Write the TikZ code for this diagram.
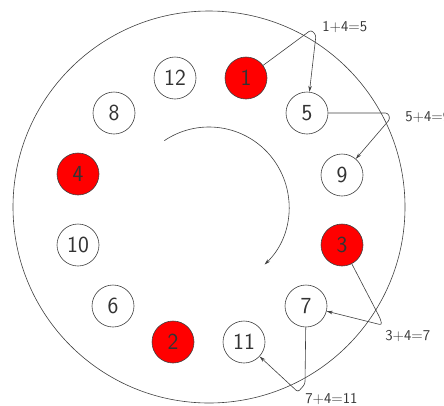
\documentclass[tikz,border=0pt]{standalone}
\usetikzlibrary{arrows.meta}
\begin{document}
\begin{tikzpicture}[x=1pt,y=-1pt, line width=0.6pt,
  ring/.style={circle, draw=black!75, minimum size=42pt, inner sep=0pt, font=\sffamily\fontsize{23}{23}\selectfont, text=black!80},
  hot/.style={ring, fill=red},
  cool/.style={ring, fill=white},
  lbl/.style={font=\sffamily\fontsize{15}{15}\selectfont, text=black!80, inner sep=0pt},
  link/.style={draw=black!75, -{Stealth[length=6pt,width=3.5pt]}, rounded corners=2.5pt}]
\useasboundingbox (0,0) rectangle (444,405);
\draw[black!75] (209,207) circle[radius=196pt];
\node[cool] (n12) at (175,78) {12};
\node[hot]  (n1)  at (246,78) {1};
\node[cool] (n5)  at (307,113) {5};
\node[cool] (n9)  at (342,175) {9};
\node[hot]  (n3)  at (342,245) {3};
\node[cool] (n7)  at (306,306) {7};
\node[cool] (n11) at (244,342) {11};
\node[hot]  (n2)  at (173,342) {2};
\node[cool] (n6)  at (113,306) {6};
\node[cool] (n10) at (78,245) {10};
\node[hot]  (n4)  at (78,174) {4};
\node[cool] (n8)  at (114,113) {8};
\draw[draw=black!75, -{Stealth[length=6pt,width=3.5pt]}] (209,207) ++(-124:80) arc[start angle=-124, end angle=46, radius=80];
\draw[link] (n1) -- (311,30) -- (316,35) -- (n5);
\draw[link] (n5) -- (388,113) -- (390,119) -- (n9);
\draw[link] (n3) -- (380,318) -- (382,325) -- (n7);
\draw[link] (n7) -- (305,384) -- (298,392) -- (n11);
\node[lbl, anchor=west] (l1) at (322,27) {1+4=5};
\node[lbl, anchor=west] (l2) at (405,117) {5+4=9};
\node[lbl, anchor=west] (l3) at (385,336) {3+4=7};
\node[lbl, anchor=west] (l4) at (305,399) {7+4=11};
\end{tikzpicture}
\end{document}
